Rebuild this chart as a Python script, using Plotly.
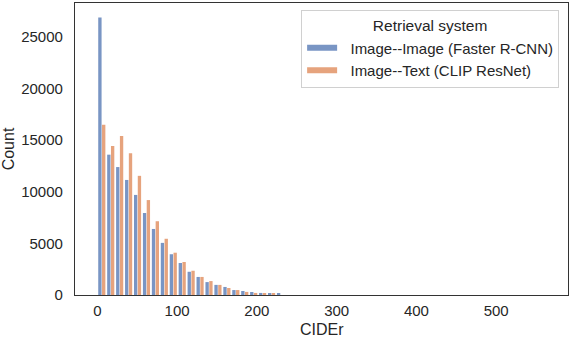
import plotly.graph_objects as go

# Histogram of CIDEr scores, 50 bins of width 11.2 from 0 to 560
bin_width = 11.2
n_bins = 50
bin_centers = [bin_width * (i + 0.5) for i in range(n_bins)]

series_names = ["Image--Image (Faster R-CNN)", "Image--Text (CLIP ResNet)"]
colors = ["#7995C4", "#E6A37D"]

# counts (bins 0..49); the long tail is too small to see
image_image = [26900, 13600, 12400, 11150, 9700, 7950, 6400, 5050, 3950, 3100,
               2250, 1750, 1250, 980, 780, 480, 390, 290, 200, 110,
               100, 0, 0, 0, 0, 0, 0, 0, 0, 0,
               0, 0, 0, 0, 0, 0, 0, 0, 0, 0,
               0, 0, 0, 0, 0, 0, 0, 0, 0, 0]
image_text = [16500, 14450, 15400, 13750, 11550, 9200, 7150, 5450, 4100, 3200,
              2350, 1750, 1350, 980, 680, 480, 300, 200, 110, 100,
              0, 0, 0, 0, 0, 0, 0, 0, 0, 0,
              0, 0, 0, 0, 0, 0, 0, 0, 0, 0,
              0, 0, 0, 0, 0, 0, 0, 0, 0, 0]

fig = go.Figure()
for name, counts, color in zip(series_names, [image_image, image_text], colors):
    fig.add_trace(go.Bar(x=bin_centers, y=counts, name=name,
                         marker=dict(color=color, line=dict(width=0)),
                         showlegend=False))
    # wide flat swatch for the legend, like matplotlib patches
    fig.add_trace(go.Scatter(x=[None], y=[None], mode="lines",
                             name="\u00a0\u00a0" + name,
                             line=dict(color=color, width=6)))

axis_style = dict(showgrid=False, zeroline=False, showline=True, mirror=True,
                  linecolor="#333333", linewidth=1.3, automargin=False,
                  ticks="outside", tickcolor="rgba(0,0,0,0)",
                  tickfont=dict(size=15, color="#262626"))

fig.update_layout(
    width=570, height=338,
    margin=dict(l=75, r=2, t=3, b=43, autoexpand=False),
    plot_bgcolor="white", paper_bgcolor="white",
    font=dict(family="Liberation Sans, Arial, sans-serif", color="#262626"),
    barmode="group", bargap=0.15, bargroupgap=0.12,
    legend=dict(
        x=0.982, y=0.975, xanchor="right", yanchor="top",
        bgcolor="white", bordercolor="#d0d0d0", borderwidth=1,
        font=dict(size=15, color="#262626"),
        title=dict(text="Retrieval system", side="top center",
                   font=dict(size=15.5, color="#262626")),
        tracegroupgap=0, itemwidth=30,
    ),
)
fig.update_xaxes(range=[-28, 590], tickvals=[0, 100, 200, 300, 400, 500],
                 ticklen=2, **axis_style)
fig.update_yaxes(range=[0, 28300], tickvals=[0, 5000, 10000, 15000, 20000, 25000],
                 tickformat="d", ticklen=8,
                 title=dict(text="Count", font=dict(size=16), standoff=3),
                 **axis_style)

# x title placed by hand: plotly keeps it a little too high inside the margin
fig.add_annotation(text="CIDEr", xref="paper", yref="paper", x=0.5, y=-0.118,
                   xanchor="center", yanchor="middle", showarrow=False,
                   borderpad=0, font=dict(size=16, color="#262626"))

# drop the browser's default page margin so the figure sits at (0, 0)
fig.write_html("out.html", config={"displayModeBar": False},
               post_script="document.body.style.margin = '0';")
